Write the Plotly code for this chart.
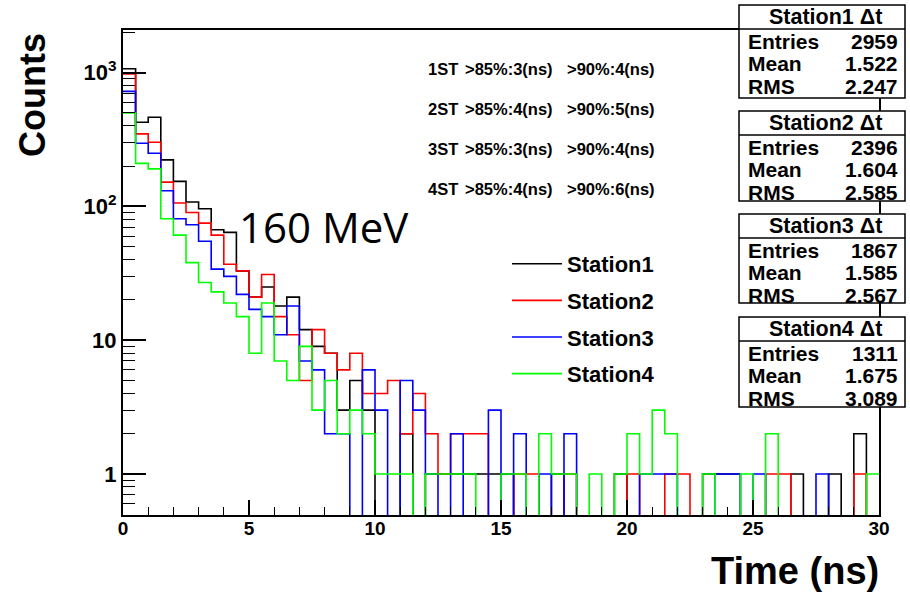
import plotly.graph_objects as go

# ---------------- data (counts per 0.5 ns bin, 0..30 ns) ----------------
bin_edges = [i * 0.5 for i in range(61)]

station1 = [1070, 426, 464, 223, 154, 108, 96, 67, 64, 33,
            21, 25, 18, 21, 12, 9, 8, 3, 5, 3,
            0, 0, 2, 0, 1, 1, 1, 1, 1, 1,
            1, 0, 0, 0, 1, 0, 0, 0, 0, 1,
            0, 0, 0, 0, 0, 0, 1, 1, 1, 0,
            0, 0, 0, 1, 0, 0, 1, 0, 2, 0]
station2 = [978, 349, 302, 152, 106, 90, 75, 61, 37, 33,
            21, 31, 15, 11, 5, 12, 8, 6, 8, 4,
            4, 5, 2, 4, 2, 1, 2, 2, 2, 0,
            0, 1, 1, 0, 0, 1, 0, 0, 0, 0,
            1, 0, 0, 1, 1, 0, 0, 0, 0, 0,
            0, 1, 1, 0, 0, 0, 0, 0, 1, 0]
station3 = [725, 297, 250, 131, 81, 73, 55, 34, 30, 22,
            17, 15, 11, 18, 7, 6, 2, 2, 0, 6,
            3, 0, 5, 3, 1, 0, 2, 0, 0, 3,
            0, 2, 0, 1, 0, 2, 0, 0, 0, 0,
            0, 1, 1, 1, 0, 0, 0, 1, 1, 0,
            1, 0, 0, 0, 0, 1, 0, 0, 0, 0]
station4 = [500, 210, 191, 81, 61, 38, 27, 23, 19, 15,
            8, 19, 7, 5, 9, 3, 5, 2, 3, 2,
            1, 1, 1, 0, 1, 1, 1, 1, 0, 0,
            1, 1, 0, 2, 1, 1, 0, 1, 0, 1,
            2, 1, 3, 2, 0, 0, 1, 0, 0, 1,
            0, 2, 0, 0, 0, 0, 0, 0, 0, 1]

names = ["Station1", "Station2", "Station3", "Station4"]
colors = ["#000000", "#ff0000", "#0000ff", "#00ff00"]
series = [station1, station2, station3, station4]

stats_entries = ["2959", "2396", "1867", "1311"]
stats_mean = ["1.522", "1.604", "1.585", "1.675"]
stats_rms = ["2.247", "2.585", "2.567", "3.089"]

notes = [("1ST", ">85%:3(ns)", ">90%:4(ns)"),
         ("2ST", ">85%:4(ns)", ">90%:5(ns)"),
         ("3ST", ">85%:3(ns)", ">90%:4(ns)"),
         ("4ST", ">85%:4(ns)", ">90%:6(ns)")]

# ---------------- layout helpers (pixel -> paper) ----------------
W, H = 910, 595
L, R, T, B = 123, 879, 30, 515
def px(x):
    return (x - L) / (R - L)
def py(y):
    return (B - y) / (B - T)

FONT = "Liberation Sans, Arial, Helvetica, sans-serif"
FLOOR = 0.1  # zero-count bins drawn below the axis floor (clipped)

fig = go.Figure()
for name, col, vals in zip(names, colors, series):
    yv = [v if v > 0 else FLOOR for v in vals]
    fig.add_trace(go.Scatter(
        x=bin_edges, y=yv + [yv[-1]],
        mode="lines", line=dict(color=col, width=1.6, shape="hv"),
        name=name, legendgroup=name, hoverinfo="skip"))

fig.update_layout(
    width=W, height=H,
    margin=dict(l=L, r=W - R, t=T, b=H - B, pad=0),
    paper_bgcolor="white", plot_bgcolor="white",
    showlegend=True,
    legend=dict(x=px(507), y=py(243), xanchor="left", yanchor="top",
                bgcolor="rgba(0,0,0,0)", borderwidth=0,
                font=dict(family=FONT, size=22, color="black", weight="bold"),
                tracegroupgap=5, itemwidth=50),
    font=dict(family=FONT, color="black"),
)

fig.update_xaxes(
    range=[0, 30], showgrid=False, zeroline=False,
    showline=True, linecolor="black", linewidth=2, mirror=True,
    tickmode="array", tickvals=[0, 5, 10, 15, 20, 25, 30],
    ticktext=["<b>%d</b>" % v for v in [0, 5, 10, 15, 20, 25, 30]],
    ticks="inside", ticklen=15, tickwidth=1.5, tickcolor="black",
    ticklabelstandoff=-5,
    tickfont=dict(family=FONT, size=19, color="black"),
    minor=dict(tickmode="array", tickvals=list(range(0, 31)),
               ticks="inside", ticklen=8, tickwidth=1.2, tickcolor="black"),
)

ymaj = [1, 10, 100, 1000]
ymin = []
for d in [0.1, 1, 10, 100, 1000]:
    for k in range(2, 10):
        ymin.append(k * d)
fig.update_yaxes(
    type="log", range=[-0.3065, 3.319], showgrid=False, zeroline=False,
    showline=True, linecolor="black", linewidth=2, mirror=True,
    tickmode="array", tickvals=ymaj,
    ticktext=["<b>1</b>", "<b>10</b>", "<b>10<sup>2</sup></b>", "<b>10<sup>3</sup></b>"],
    ticks="inside", ticklen=23, tickwidth=1.5, tickcolor="black",
    tickfont=dict(family=FONT, size=22, color="black"),
    minor=dict(tickmode="array", tickvals=ymin,
               ticks="inside", ticklen=12, tickwidth=1.2, tickcolor="black"),
)

ann = []
# axis titles
ann.append(dict(text="<b>Counts</b>", x=px(33), y=py(95), xref="paper", yref="paper",
                textangle=-90, showarrow=False, xanchor="center", yanchor="middle",
                font=dict(family=FONT, size=36, color="black")))
ann.append(dict(text="<b>Time (ns)</b>", x=px(881), y=py(571), xref="paper", yref="paper",
                showarrow=False, xanchor="right", yanchor="middle",
                font=dict(family=FONT, size=38, color="black")))
# energy label
ann.append(dict(text="160 MeV", x=px(237), y=py(226), xref="paper", yref="paper",
                showarrow=False, xanchor="left", yanchor="middle",
                font=dict(family="Open Sans, sans-serif", size=42, color="black")))
# percentile notes
for i, (a, b, c) in enumerate(notes):
    yy = py(69 + 40 * i)
    for txt, xx in [(a, 426), (b, 463), (c, 565)]:
        ann.append(dict(text="<b>%s</b>" % txt, x=px(xx), y=yy, xref="paper", yref="paper",
                        showarrow=False, xanchor="left", yanchor="middle",
                        font=dict(family=FONT, size=16.5, color="black")))

# statistics boxes
shapes = []
box_top = [5, 111, 214, 317]
box_bot = [98, 201, 303, 407]
bx0, bx1 = 739, 905
for i in range(4):
    t0, b0 = box_top[i], box_bot[i]
    sep = t0 + 24
    shapes.append(dict(type="rect", xref="paper", yref="paper",
                       x0=px(bx0), x1=px(bx1), y0=py(b0), y1=py(t0),
                       line=dict(color="black", width=1.5), fillcolor="white", layer="above"))
    shapes.append(dict(type="line", xref="paper", yref="paper",
                       x0=px(bx0), x1=px(bx1), y0=py(sep), y1=py(sep),
                       line=dict(color="black", width=1.5), layer="above"))
    ann.append(dict(text="<b>%s Δt</b>" % names[i], x=px((bx0 + bx1) / 2 + 3), y=py(t0 + 12),
                    xref="paper", yref="paper", showarrow=False,
                    xanchor="center", yanchor="middle",
                    font=dict(family=FONT, size=21.5, color="black")))
    rows = [("Entries", stats_entries[i]), ("Mean", stats_mean[i]), ("RMS", stats_rms[i])]
    for j, (lab, val) in enumerate(rows):
        yy = py(t0 + 36 + 22.5 * j)
        ann.append(dict(text="<b>%s</b>" % lab, x=px(746), y=yy, xref="paper", yref="paper",
                        showarrow=False, xanchor="left", yanchor="middle",
                        font=dict(family=FONT, size=21, color="black")))
        ann.append(dict(text="<b>%s</b>" % val, x=px(900), y=yy, xref="paper", yref="paper",
                        showarrow=False, xanchor="right", yanchor="middle",
                        font=dict(family=FONT, size=21, color="black")))

fig.update_layout(annotations=ann, shapes=shapes)
fig.write_html("out.html", config={"displayModeBar": False},
               post_script="document.body.style.margin='0';")
